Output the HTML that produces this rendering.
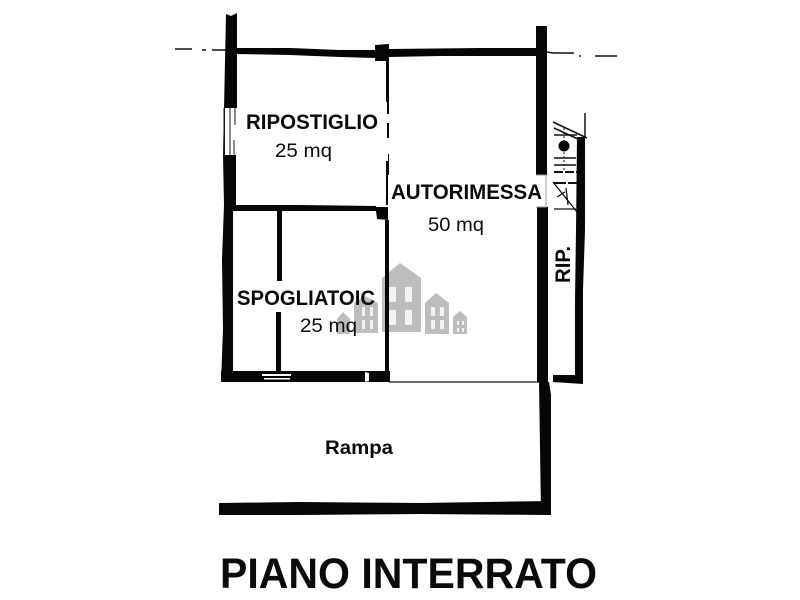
<!DOCTYPE html>
<html>
<head>
<meta charset="utf-8">
<style>
html,body{margin:0;padding:0;background:#fff;width:800px;height:600px;overflow:hidden}
svg{display:block;filter:blur(.35px)}
text{font-family:"Liberation Sans",sans-serif;fill:#0a0a0a}
.b{font-weight:bold}
</style>
</head>
<body>
<svg width="800" height="600" viewBox="0 0 800 600" xmlns="http://www.w3.org/2000/svg">
<rect width="800" height="600" fill="#fff"/>

<!-- watermark -->
<g fill="#bdbdbd">
<path d="M382 278L400 263L421 278V332H382Z"/>
<path d="M425 303L436 293L449 303V334H425Z"/>
<path d="M453 317L460 311L467 317V334H453Z"/>
<path d="M354 303L365 296L378 303V333H354Z"/>
<path d="M337 319L343 312L350 319V334H337Z"/>
</g>
<g fill="#f2f2f2">
<rect x="389" y="287" width="7" height="15"/><rect x="405" y="287" width="7" height="15"/>
<rect x="389" y="310" width="7" height="15"/><rect x="405" y="310" width="7" height="15"/>
<rect x="431" y="307" width="4" height="9"/><rect x="440" y="307" width="4" height="9"/>
<rect x="431" y="320" width="4" height="9"/><rect x="440" y="320" width="4" height="9"/>
<rect x="362" y="307" width="3" height="9"/><rect x="370" y="307" width="3" height="9"/>
<rect x="362" y="320" width="3" height="9"/><rect x="370" y="320" width="3" height="9"/>
<rect x="457" y="321" width="2" height="4"/><rect x="462" y="321" width="2" height="4"/>
<rect x="457" y="328" width="2" height="4"/><rect x="462" y="328" width="2" height="4"/>
</g>

<g fill="#060606">
<!-- left wall -->
<path d="M226 14L231 16L237 13V108H225V155H236V205L233 212V371H233V382H221L223 330L222 260L224 205L223 155Z"/>
<!-- top wall -->
<path d="M236 48L290 48L340 50L375 50V45L389 44V49L480 48L537 48V56L440 56L389 57V61H375V58L340 57L290 55L236 54Z"/>
<!-- right wall -->
<rect x="536" y="26" width="11" height="149"/>
<rect x="537" y="207" width="11" height="175"/>
<path d="M539 382H549L551 395V513H541Z"/>
<!-- bottom ramp wall -->
<path d="M219 503L300 502L420 503L551 501V515L420 514L300 515L219 515Z"/>
<!-- thin partition -->
<rect x="386" y="61" width="3" height="41"/>
<rect x="387" y="102" width="2" height="12"/>
<rect x="387" y="123" width="2" height="15"/>
<rect x="388" y="154" width="1" height="7"/>
<rect x="386" y="161" width="3" height="44"/>
<rect x="385" y="220" width="4" height="162"/>
<!-- mid wall + block -->
<path d="M233 205L300 205L376 206V207H388V220L377 219L376 211L300 211L233 211Z"/>
<!-- inner vertical -->
<rect x="277" y="211" width="5" height="70"/>
<rect x="276" y="312" width="5" height="60"/>
<!-- bottom wall -->
<rect x="221" y="371" width="169" height="11"/>
<!-- stair wall -->
<path d="M577 137H585V230L583 290L583 384L553 382V375H575V300L576 230Z"/>
</g>

<!-- bottom wall window + notch -->
<g fill="#fff">
<rect x="262" y="374" width="29" height="2"/>
<rect x="264" y="378" width="26" height="1.5"/>
<path d="M365 372L369 373L369 381L365 382Z"/>
</g>
<!-- left-wall window lines -->
<g stroke="#1a1a1a" fill="none">
<path d="M224 108V155M230 108V155" stroke-width="1"/>
<path d="M235 108V125M234 140V155" stroke-width="1"/>
</g>

<!-- thin lines -->
<g stroke="#111" fill="none">
<path d="M389 382H540" stroke-width="1.2"/>
<path d="M175 49H192M202 50H206M212 50H226" stroke-width="1.5"/>
<path d="M547 52L553 53H574M579 56H581M595 56H617" stroke-width="1.5"/>
<!-- stairs -->
<path d="M585 113V138" stroke-width="1.5"/>
<path d="M553 122L587 138M554 128L580 140" stroke-width="1.6"/>
<path d="M554 135H577" stroke-width="1.5"/>
<path d="M554 158H576M554 165H576" stroke-width="1.5"/>
<path d="M554 172H577" stroke-width="2" stroke-dasharray="9 2"/>
<path d="M554 183H577" stroke-width="2" stroke-dasharray="12 2"/>
<path d="M553 182L577 212M554 209H576M566 188L568 205M557 197L565 192" stroke-width="1.3"/>
<path d="M564 128V172" stroke-width="1" stroke-dasharray="2 2"/>
</g>
<circle cx="564" cy="146" r="5.5" fill="#060606"/>

<!-- labels -->
<text class="b" x="246" y="129" font-size="21" textLength="132" lengthAdjust="spacingAndGlyphs">RIPOSTIGLIO</text>
<text x="275" y="157" font-size="19.5" textLength="57" lengthAdjust="spacingAndGlyphs">25 mq</text>
<rect x="388" y="175" width="158" height="32" fill="#fff"/>
<path d="M536 175H546V207H536" fill="none" stroke="#999" stroke-width="1"/>
<text class="b" x="391" y="199" font-size="21" textLength="151" lengthAdjust="spacingAndGlyphs">AUTORIMESSA</text>
<text x="428" y="231" font-size="19.5" textLength="56" lengthAdjust="spacingAndGlyphs">50 mq</text>
<rect x="272" y="281" width="14" height="31" fill="#fff"/>
<text class="b" x="237" y="305" font-size="21" textLength="138" lengthAdjust="spacingAndGlyphs">SPOGLIATOIC</text>
<text x="300" y="332" font-size="19.5" textLength="57" lengthAdjust="spacingAndGlyphs">25 mq</text>
<text class="b" x="325" y="454" font-size="19.5" textLength="68" lengthAdjust="spacingAndGlyphs">Rampa</text>
<text class="b" transform="translate(570 283) rotate(-90)" x="0" y="0" font-size="21" textLength="37" lengthAdjust="spacingAndGlyphs">RIP.</text>
<text class="b" x="220" y="588" font-size="43" textLength="377" lengthAdjust="spacingAndGlyphs">PIANO INTERRATO</text>
</svg>
</body>
</html>
